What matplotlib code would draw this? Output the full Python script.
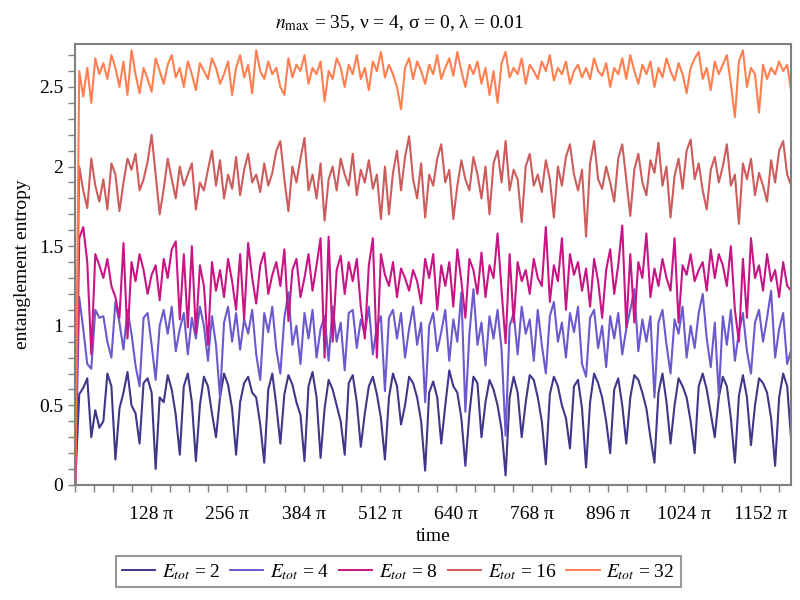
import numpy as np
import matplotlib
matplotlib.use("Agg")
import matplotlib.pyplot as plt
from matplotlib.ticker import MultipleLocator, FuncFormatter

plt.rcParams["font.family"] = ["Liberation Serif", "DejaVu Serif"]
plt.rcParams["mathtext.fontset"] = "stix"

T_END = 1204 * np.pi

E2 = [0.00, 0.57, 0.61, 0.67, 0.30, 0.47, 0.36, 0.40, 0.70, 0.62,
      0.16, 0.48, 0.58, 0.71, 0.50, 0.45, 0.26, 0.64, 0.67, 0.58,
      0.10, 0.55, 0.52, 0.69, 0.60, 0.44, 0.19, 0.62, 0.70, 0.52,
      0.15, 0.50, 0.68, 0.62, 0.45, 0.30, 0.55, 0.70, 0.63, 0.48,
      0.19, 0.52, 0.64, 0.68, 0.58, 0.55, 0.38, 0.14, 0.60, 0.70,
      0.50, 0.26, 0.57, 0.69, 0.63, 0.52, 0.44, 0.15, 0.62, 0.71,
      0.55, 0.17, 0.48, 0.66, 0.60, 0.50, 0.40, 0.19, 0.64, 0.69,
      0.52, 0.24, 0.45, 0.62, 0.68, 0.57, 0.42, 0.16, 0.55, 0.70,
      0.62, 0.38, 0.50, 0.68, 0.64, 0.55, 0.40, 0.09, 0.58, 0.65,
      0.55, 0.26, 0.50, 0.72, 0.62, 0.58, 0.42, 0.12, 0.45, 0.68,
      0.64, 0.30, 0.52, 0.66, 0.60, 0.50, 0.35, 0.06, 0.55, 0.68,
      0.58, 0.30, 0.52, 0.69, 0.66, 0.55, 0.40, 0.13, 0.57, 0.68,
      0.62, 0.50, 0.42, 0.23, 0.62, 0.66, 0.48, 0.11, 0.52, 0.70,
      0.64, 0.55, 0.40, 0.20, 0.60, 0.67, 0.50, 0.26, 0.55, 0.69,
      0.66, 0.58, 0.48, 0.30, 0.14, 0.58, 0.70, 0.52, 0.26, 0.50,
      0.67, 0.62, 0.55, 0.40, 0.20, 0.62, 0.70, 0.60, 0.45, 0.30,
      0.55, 0.68, 0.62, 0.42, 0.14, 0.56, 0.69, 0.55, 0.25, 0.50,
      0.67, 0.64, 0.58, 0.42, 0.12, 0.55, 0.70, 0.62, 0.28]

E4 = [0.00, 1.18, 0.98, 0.76, 0.73, 1.10, 1.05, 1.06, 0.90, 0.80,
      1.15, 1.02, 0.85, 1.10, 0.95, 0.75, 0.62, 1.05, 1.08, 0.88,
      0.66, 1.00, 1.10, 0.95, 1.12, 0.84, 0.98, 1.08, 0.82, 1.05,
      0.92, 1.12, 1.00, 0.78, 1.06, 0.88, 0.55, 1.02, 1.12, 0.90,
      1.08, 0.85, 1.04, 0.95, 1.10, 0.82, 0.66, 1.08, 0.96, 1.12,
      0.85, 0.70, 1.05, 1.21, 0.88, 1.00, 0.76, 1.08, 0.92, 1.10,
      0.80, 0.98, 1.06, 0.78, 1.12, 0.90, 1.02, 0.72, 1.08, 1.10,
      0.86, 1.04, 0.95, 1.12, 0.82, 1.00, 1.06, 0.59, 1.05, 1.10,
      0.92, 1.08, 0.80, 0.98, 1.12, 0.88, 1.02, 0.52, 1.00, 1.08,
      0.84, 0.96, 1.10, 0.78, 1.04, 0.90, 1.21, 0.46, 0.95, 1.23,
      0.88, 1.02, 0.75, 1.06, 0.92, 1.10, 0.85, 0.31, 1.00, 1.08,
      0.82, 1.12, 0.95, 1.04, 0.78, 1.10, 0.88, 0.70, 1.06, 1.15,
      0.90, 1.02, 0.80, 1.08, 0.96, 1.12, 0.76, 0.68, 1.05, 1.10,
      0.86, 1.00, 0.74, 1.06, 0.92, 1.08, 0.82, 0.98, 1.10, 1.23,
      0.84, 1.04, 0.90, 1.06, 0.55, 1.02, 1.10, 0.88, 0.70, 1.04,
      0.95, 1.12, 0.80, 1.00, 0.86, 1.08, 1.20, 0.92, 0.74, 1.02,
      0.56, 1.06, 0.88, 1.10, 0.78, 0.96, 1.08, 0.84, 0.70, 1.02,
      1.10, 0.90, 1.05, 1.22, 0.80, 0.98, 1.08, 0.76, 0.85]

E8 = [0.00, 1.55, 1.62, 1.40, 0.82, 1.45, 1.38, 1.30, 1.42, 1.25,
      1.18, 1.05, 1.52, 0.92, 1.40, 1.28, 1.45, 1.35, 1.20, 1.32,
      1.38, 1.16, 1.42, 1.30, 1.48, 1.53, 1.04, 1.45, 0.99, 1.50,
      0.95, 1.38, 1.25, 0.88, 1.40, 1.22, 1.35, 1.18, 1.42, 1.28,
      1.10, 1.45, 1.04, 1.52, 1.30, 1.14, 1.38, 1.46, 1.20, 1.32,
      1.40, 1.25, 1.48, 1.03, 1.35, 1.42, 1.18, 1.30, 1.45, 1.22,
      1.38, 1.55, 0.80, 1.56, 0.90, 1.35, 1.44, 1.20, 1.40, 1.28,
      1.42, 1.12, 0.92, 1.38, 1.55, 0.80, 1.45, 1.32, 1.25, 1.40,
      1.18, 1.36, 1.30, 1.22, 1.35, 1.28, 1.14, 1.42, 1.30, 1.45,
      1.10, 1.38, 1.25, 1.40, 1.12, 1.48, 1.28, 1.05, 1.42, 1.35,
      1.20, 1.46, 1.18, 1.38, 1.30, 1.58, 1.22, 0.89, 1.45, 1.02,
      1.40, 1.28, 1.35, 1.20, 1.42, 1.30, 1.25, 1.62, 1.15, 1.38,
      1.28, 1.55, 1.10, 1.45, 1.32, 1.40, 1.22, 1.36, 1.12, 1.42,
      1.28, 1.05, 1.35, 1.48, 1.20, 1.38, 1.63, 0.99, 1.45, 1.02,
      1.40, 1.30, 1.58, 1.18, 1.36, 1.25, 1.42, 1.30, 1.22, 1.55,
      1.02, 1.38, 1.32, 1.45, 1.28, 1.35, 1.40, 1.22, 1.48, 1.30,
      1.45, 1.38, 1.25, 1.50, 1.10, 0.90, 1.42, 1.05, 1.55, 1.30,
      1.38, 1.22, 1.45, 1.28, 1.35, 1.18, 1.40, 1.25, 1.22]

E16 = [0.00, 2.00, 1.85, 1.74, 2.05, 1.88, 1.78, 1.92, 1.73, 2.02,
       1.95, 1.72, 1.90, 2.05, 1.98, 2.08, 1.85, 1.92, 2.03, 2.20,
       1.95, 1.70, 1.86, 2.05, 1.92, 1.80, 2.00, 1.88, 1.95, 2.02,
       1.73, 1.90, 1.85, 1.98, 2.10, 1.88, 2.04, 1.80, 1.95, 1.86,
       2.06, 1.82, 1.98, 2.08, 1.90, 1.95, 1.84, 2.02, 1.88, 1.96,
       2.10, 2.16, 1.92, 1.72, 2.00, 1.90, 2.05, 2.18, 1.85, 1.95,
       1.80, 2.02, 1.66, 1.92, 2.00, 1.85, 2.05, 1.95, 1.88, 2.08,
       1.82, 1.98, 1.90, 2.04, 1.86, 1.95, 1.67, 2.00, 1.70, 1.96,
       2.10, 1.85, 2.06, 2.19, 1.92, 1.80, 2.02, 1.68, 1.95, 1.88,
       2.05, 2.14, 1.90, 1.98, 1.67, 1.88, 2.04, 1.92, 1.85, 2.06,
       1.95, 1.80, 2.00, 1.70, 2.02, 2.10, 1.90, 2.16, 1.85, 1.98,
       1.92, 1.65, 2.00, 2.08, 1.88, 1.95, 1.84, 2.04, 1.92, 1.68,
       2.00, 1.88, 2.06, 2.14, 1.95, 1.85, 1.98, 1.56, 2.02, 2.16,
       1.92, 1.86, 2.00, 1.90, 1.78, 2.05, 2.14, 1.92, 1.69, 1.98,
       2.08, 1.90, 1.82, 2.04, 1.96, 2.15, 1.88, 2.00, 1.68, 1.94,
       2.05, 1.86, 2.10, 2.17, 1.92, 2.02, 1.85, 1.73, 1.98, 2.06,
       1.90, 2.00, 2.14, 1.88, 1.95, 1.64, 2.02, 1.92, 2.05, 1.82,
       1.96, 1.88, 1.78, 2.04, 1.90, 2.10, 2.16, 1.95, 1.88]

E32 = [0.00, 2.60, 2.44, 2.62, 2.40, 2.68, 2.58, 2.65, 2.55, 2.70,
       2.62, 2.50, 2.66, 2.45, 2.73, 2.58, 2.46, 2.62, 2.55, 2.47,
       2.68, 2.60, 2.52, 2.64, 2.70, 2.56, 2.62, 2.50, 2.66, 2.58,
       2.48, 2.65, 2.60, 2.55, 2.68, 2.62, 2.52, 2.58, 2.66, 2.45,
       2.62, 2.70, 2.56, 2.64, 2.46, 2.73, 2.60, 2.55, 2.66, 2.58,
       2.62, 2.50, 2.45, 2.68, 2.56, 2.64, 2.60, 2.70, 2.52, 2.62,
       2.58, 2.66, 2.41, 2.60, 2.55, 2.68, 2.62, 2.50, 2.64, 2.58,
       2.70, 2.55, 2.62, 2.48, 2.66, 2.60, 2.72, 2.56, 2.64, 2.58,
       2.50, 2.36, 2.62, 2.68, 2.55, 2.66, 2.60, 2.52, 2.64, 2.58,
       2.70, 2.55, 2.62, 2.68, 2.57, 2.72, 2.60, 2.50, 2.64, 2.58,
       2.66, 2.52, 2.62, 2.45, 2.60, 2.40, 2.65, 2.72, 2.56, 2.62,
       2.58, 2.68, 2.52, 2.64, 2.60, 2.55, 2.66, 2.60, 2.70, 2.54,
       2.62, 2.58, 2.66, 2.52, 2.60, 2.64, 2.56, 2.62, 2.55, 2.68,
       2.60, 2.57, 2.65, 2.50, 2.62, 2.58, 2.68, 2.55, 2.70, 2.60,
       2.52, 2.64, 2.58, 2.66, 2.50, 2.62, 2.56, 2.68, 2.60, 2.54,
       2.65, 2.58, 2.46, 2.62, 2.68, 2.72, 2.55, 2.62, 2.48, 2.66,
       2.58, 2.64, 2.70, 2.52, 2.31, 2.66, 2.73, 2.50, 2.62, 2.58,
       2.34, 2.64, 2.55, 2.62, 2.58, 2.66, 2.60, 2.64, 2.47]

SERIES = [("2", E2, "#3f3788"), ("4", E4, "#6a5acd"), ("8", E8, "#c71585"),
          ("16", E16, "#cd5c5c"), ("32", E32, "#ff7f50")]

XTICKS = [128, 256, 384, 512, 640, 768, 896, 1024, 1152]

fig = plt.figure(figsize=(8, 6), dpi=100)
ax = fig.add_axes([0.094, 0.1917, 0.895, 0.735])

for name, values, color in SERIES:
    t = np.linspace(0, T_END, len(values))
    ax.plot(t, values, color=color, lw=1.5, label=rf"$E_{{tot}}$ = {name}")

ax.set_xlim(0, T_END)
ax.set_ylim(0, 2.77)
ax.set_xticks([k * np.pi for k in XTICKS], [f"{k} π" for k in XTICKS])
ax.xaxis.set_minor_locator(MultipleLocator(32 * np.pi))
ax.yaxis.set_major_locator(MultipleLocator(0.5))
ax.yaxis.set_minor_locator(MultipleLocator(0.1))
ax.yaxis.set_major_formatter(FuncFormatter(lambda v, _: f"{v:g}"))
ax.tick_params(which="both", direction="out", length=5, width=1, color="#808080",
               labelsize=14)
ax.tick_params(axis="x", which="major", pad=10)
for spine in ax.spines.values():
    spine.set_color("#808080")
    spine.set_linewidth(1.5)

ax.set_xlabel("time", fontsize=14, labelpad=4)
ax.set_ylabel("entanglement entropy", fontsize=14, labelpad=6)
fig.text(0.5, 0.962, r"$n_{\mathrm{max}}$ = 35, ν = 4, σ = 0, λ = 0.01",
         ha="center", va="center", fontsize=14)

leg = fig.legend(loc="center", bbox_to_anchor=(0.498, 0.047), ncol=5, fontsize=14,
                 fancybox=False, edgecolor="#808080", handlelength=1.7,
                 handletextpad=0.35, columnspacing=0.5, borderpad=0.3,
                 borderaxespad=0.2)
leg.get_frame().set_linewidth(1.5)
for line in leg.get_lines():
    line.set_linewidth(1.4)

fig.savefig("out.png", dpi=100)
